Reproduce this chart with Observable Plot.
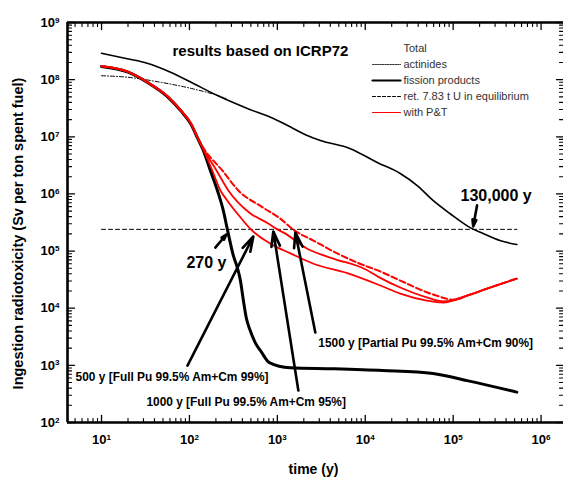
<!DOCTYPE html>
<html><head><meta charset="utf-8">
<script src="https://cdn.jsdelivr.net/npm/d3@7"></script>
<script src="https://cdn.jsdelivr.net/npm/@observablehq/plot@0.6"></script>
<style>body{margin:0;background:#fff;} svg{display:block;}</style>
</head><body><div id="chart"></div>
<script>
// ---- data (time in years, ingestion radiotoxicity in Sv per ton spent fuel) ----
const totalT = [10, 19.6, 33, 61, 111, 208, 456, 901, 1514, 2188, 3090, 6760, 13700, 25000, 39000, 59000, 92500, 156000, 219000, 340000, 530000];
const totalV = [2.9e8, 2.32e8, 1.94e8, 1.35e8, 8.55e7, 5.27e7, 3.13e7, 2.09e7, 1.4e7, 1.05e7, 8.6e6, 6.2e6, 3.55e6, 2.28e6, 1.4e6, 7.7e5, 4.5e5, 2.57e5, 2.03e5, 1.53e5, 1.3e5];

const actT = [10, 20, 47, 110, 200, 260];
const actV = [1.17e8, 1.1e8, 9.0e7, 6.9e7, 5.4e7, 4.7e7];

const fpT = [10, 20, 33, 58, 79, 103, 123, 144, 173, 208, 243, 270, 316, 351, 380, 411, 445, 490, 560, 660, 810, 1400, 4330, 15800, 59000, 144000, 530000];
const fpV = [1.7e8, 1.35e8, 9.0e7, 4.8e7, 2.9e7, 1.7e7, 9.7e6, 5.75e6, 2.57e6, 1.15e6, 5.1e5, 2.4e5, 8.3e4, 5.1e4, 3.05e4, 1.36e4, 6.6e3, 4.1e3, 2.5e3, 1.7e3, 1.12e3, 910, 870, 810, 720, 540, 340];

const retT = [10, 530000];
const retV = [2.4e5, 2.4e5];

// with P&T (500 y, 1000 y, 1500 y scenarios)
const pt500T = [10, 20, 33, 58, 79, 103, 123, 144, 182, 225, 269, 380, 500, 830, 1410, 2570, 6240, 14800, 25000, 50000, 77000, 144000, 243000, 530000];
const pt500V = [1.72e8, 1.37e8, 9.1e7, 4.9e7, 2.95e7, 1.75e7, 9.9e6, 6.0e6, 2.57e6, 1.15e6, 7.7e5, 3.9e5, 2.4e5, 1.35e5, 9.1e4, 6.0e4, 4.1e4, 2.5e4, 1.8e4, 1.36e4, 1.26e4, 1.66e4, 2.2e4, 3.3e4];
const pt1000T = [10, 20, 33, 58, 79, 103, 123, 144, 203, 277, 490, 770, 1000, 1180, 2190, 4330, 10000, 14800, 25000, 50000, 77000, 144000, 243000, 530000];
const pt1000V = [1.72e8, 1.37e8, 9.1e7, 4.9e7, 2.95e7, 1.75e7, 9.9e6, 6.2e6, 2.57e6, 1.15e6, 4.6e5, 3.1e5, 2.4e5, 2.1e5, 1.1e5, 7.4e4, 4.8e4, 3.4e4, 2.3e4, 1.55e4, 1.32e4, 1.66e4, 2.2e4, 3.3e4];
const pt1500T = [10, 20, 33, 58, 79, 103, 123, 144, 237, 360, 690, 1080, 1500, 2570, 4800, 8700, 14800, 25000, 59000, 105000, 144000, 243000, 530000];
const pt1500V = [1.72e8, 1.37e8, 9.1e7, 4.9e7, 2.95e7, 1.75e7, 9.9e6, 6.4e6, 2.57e6, 1.15e6, 5.75e5, 3.7e5, 2.4e5, 1.53e5, 9.1e4, 6.0e4, 4.4e4, 3.05e4, 1.74e4, 1.4e4, 1.66e4, 2.2e4, 3.3e4];

// ticks
const xMajor = [10, 100, 1000, 10000, 100000, 1000000];
const yMajor = [1e2, 1e3, 1e4, 1e5, 1e6, 1e7, 1e8, 1e9];
const xDomain = [4.1, 1.8e6];
const yDomain = [1e2, 1e9];

// annotations
const arrowData = [
  {t1: 197, v1: 1.15e5, t2: 263, v2: 1.95e5},
  {t1: 95, v1: 990, t2: 533, v2: 1.8e5},
  {t1: 1734, v1: 363, t2: 900, v2: 2.2e5},
  {t1: 2704, v1: 3760, t2: 1603, v2: 2.1e5},
  {t1: 1.87e5, v1: 6.3e5, t2: 1.69e5, v2: 2.7e5}
];
const bigLabels = [
  {t: 156, v: 6.3e4, text: "270 y"},
  {t: 3.08e5, v: 9.4e5, text: "130,000 y"}
];
const smallLabels = [
  {t: 5.07, v: 612, text: "500 y [Full Pu 99.5% Am+Cm 99%]"},
  {t: 32.4, v: 224, text: "1000 y [Full Pu 99.5% Am+Cm 95%]"},
  {t: 2925, v: 2410, text: "1500 y [Partial Pu 99.5% Am+Cm 90%]"}
];
const titleText = "results based on ICRP72";
const legendLabels = ["Total", "actinides", "fission products", "ret. 7.83 t U in equilibrium", "with P&T"];
const xLabel = "time (y)";
const yLabel = "Ingestion radiotoxicity (Sv per ton spent fuel)";

// ---- build ----
const pts = (T, V) => T.map((t, i) => ({t, v: V[i]}));
const minorOf = (majors, lo, hi) => {
  const out = [];
  const decades = [majors[0] / 10, ...majors];
  for (const d of decades) for (let m = 2; m <= 9; m++) { const v = d * m; if (v > lo && v < hi) out.push(v); }
  return out;
};
const xMinor = minorOf(xMajor, xDomain[0], xDomain[1]);
const yMinor = minorOf(yMajor.slice(0, -1), yDomain[0], yDomain[1]);
const tickShape = {draw(context, l) { context.moveTo(0, 0); context.lineTo(0, -l); }};
const fmt = d => "10|" + Math.round(Math.log10(d));

const tickMarks = [];
const sides = [
  {anchor: "bottom", rotate: 0, axis: "x"},
  {anchor: "top", rotate: 180, axis: "x"},
  {anchor: "left", rotate: 90, axis: "y"},
  {anchor: "right", rotate: -90, axis: "y"}
];
for (const s of sides) {
  const maj = s.axis === "x" ? xMajor : yMajor;
  const min = s.axis === "x" ? xMinor : yMinor;
  const ch = s.axis === "x" ? {x: d => d} : {y: d => d};
  tickMarks.push(Plot.vector(maj, {...ch, frameAnchor: s.anchor, rotate: s.rotate, length: 7, anchor: "start", shape: tickShape, stroke: "black", strokeWidth: 1.3}));
  tickMarks.push(Plot.vector(min, {...ch, frameAnchor: s.anchor, rotate: s.rotate, length: 4, anchor: "start", shape: tickShape, stroke: "black", strokeWidth: 1.1}));
}

const legendMarks = [];
const legendStyles = [
  null,
  {stroke: "black", strokeWidth: 0.8, strokeDasharray: "1.5,1"},
  {stroke: "black", strokeWidth: 2.2},
  {stroke: "black", strokeWidth: 1, strokeDasharray: "3,2"},
  {stroke: "red", strokeWidth: 1}
];
legendLabels.forEach((lab, i) => {
  legendMarks.push(Plot.text([lab], {text: d => d, frameAnchor: "top-left", dx: 336, dy: 26 + 16 * i, textAnchor: "start", lineAnchor: "middle", fontSize: 11, fontWeight: "normal", fill: "#333"}));
  if (legendStyles[i]) legendMarks.push(Plot.vector([0], {frameAnchor: "top-left", dx: 305, dy: 26 + 16 * i, rotate: 90, length: 28, anchor: "start", shape: tickShape, ...legendStyles[i]}));
});

const curve = "monotone-x";
const chart = Plot.plot({
  width: 563, height: 479,
  marginTop: 22, marginBottom: 57, marginLeft: 67, marginRight: 0,
  style: {fontFamily: "'Liberation Sans', Arial, sans-serif", fontSize: "13px", fontWeight: "bold", background: "white", overflow: "visible"},
  x: {type: "log", domain: xDomain},
  y: {type: "log", domain: yDomain},
  marks: [
    Plot.line(pts(retT, retV), {x: "t", y: "v", stroke: "black", strokeWidth: 1, strokeDasharray: "4,3"}),
    Plot.line(pts(actT, actV), {x: "t", y: "v", stroke: "black", strokeWidth: 1, strokeDasharray: "4,2,1,2", curve}),
    Plot.line(pts(totalT, totalV), {x: "t", y: "v", stroke: "black", strokeWidth: 1.6, curve}),
    Plot.line(pts(fpT, fpV), {x: "t", y: "v", stroke: "black", strokeWidth: 3, curve}),
    Plot.line(pts(pt500T, pt500V), {x: "t", y: "v", stroke: "red", strokeWidth: 1.8, curve}),
    Plot.line(pts(pt1000T, pt1000V), {x: "t", y: "v", stroke: "red", strokeWidth: 1.8, curve}),
    Plot.line(pts(pt1500T, pt1500V), {x: "t", y: "v", stroke: "red", strokeWidth: 2, strokeDasharray: "6,3", curve}),
    Plot.arrow(arrowData, {x1: "t1", y1: "v1", x2: "t2", y2: "v2", stroke: "black", strokeWidth: 2.6, headLength: 9, headAngle: 32}),
    Plot.text(bigLabels, {x: "t", y: "v", text: "text", fontSize: 16, fontWeight: "bold", textAnchor: "middle"}),
    Plot.text(smallLabels, {x: "t", y: "v", text: "text", fontSize: 11.9, fontWeight: "bold", textAnchor: "start"}),
    Plot.text([titleText], {text: d => d, frameAnchor: "top-left", dx: 105, dy: 29, textAnchor: "start", lineAnchor: "middle", fontSize: 15, fontWeight: "bold"}),
    ...legendMarks,
    Plot.ruleX([xDomain[0]], {stroke: "black", strokeWidth: 2.6}),
    Plot.ruleY(yDomain, {stroke: "black", strokeWidth: 2.6}),
    ...tickMarks,
    Plot.axisX(xMajor, {tickFormat: fmt, tickSize: 0, tickPadding: 12, label: null}),
    Plot.axisY(yMajor, {tickFormat: fmt, tickSize: 0, tickPadding: 8, label: null}),
    Plot.text([xLabel], {text: d => d, frameAnchor: "bottom", dx: -2, dy: 47, textAnchor: "middle", lineAnchor: "middle", fontSize: 14, fontWeight: "bold"}),
    Plot.text([yLabel], {text: d => d, frameAnchor: "left", dx: -49, dy: 11, rotate: -90, textAnchor: "middle", lineAnchor: "middle", fontSize: 14.5, fontWeight: "bold"})
  ]
});
chart.querySelectorAll("text").forEach(el => {
  const m = /^10\|(\d)$/.exec(el.textContent);
  if (m) {
    el.textContent = "10";
    const ts = document.createElementNS("http://www.w3.org/2000/svg", "tspan");
    ts.setAttribute("dy", "-0.5em");
    ts.setAttribute("font-size", "0.62em");
    ts.textContent = m[1];
    el.appendChild(ts);
  }
});
document.getElementById("chart").appendChild(chart);
</script>
</body></html>
